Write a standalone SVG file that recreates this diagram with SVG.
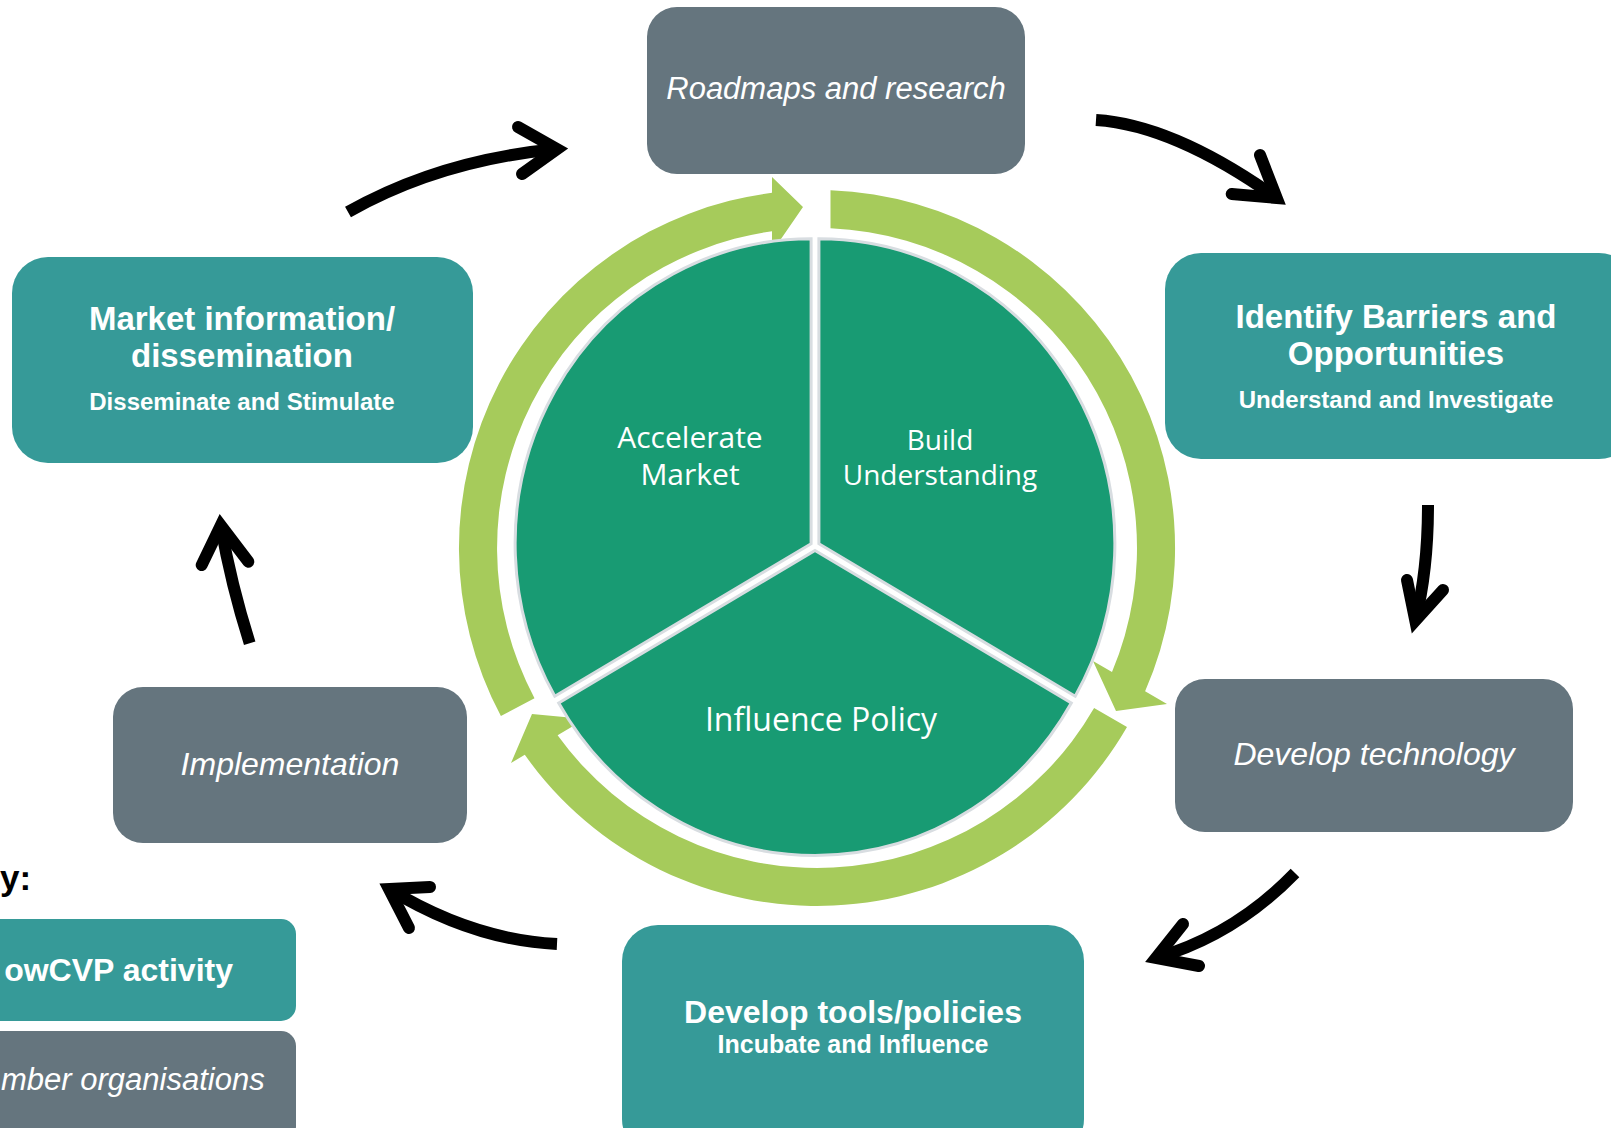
<svg xmlns="http://www.w3.org/2000/svg" width="1611" height="1128" viewBox="0 0 1611 1128">
<style>
.teal{fill:#369A98}
.gray{fill:#65757E}
.tb{font-family:"Liberation Sans",Arial,sans-serif;font-weight:bold;fill:#FFFFFF;text-anchor:middle}
.ti{font-family:"Liberation Sans",Arial,sans-serif;font-style:italic;fill:#FFFFFF;text-anchor:middle}
.tp{font-family:"Open Sans","Noto Sans",sans-serif;fill:#FFFFFF;text-anchor:middle}
.ring{fill:#A6CB5B}
.sector{fill:#189B73;stroke:#D8DDE1;stroke-width:3}
.shaft{fill:none;stroke:#000000;stroke-width:12;stroke-linecap:butt}
.head{fill:none;stroke:#000000;stroke-width:12;stroke-linecap:round;stroke-linejoin:miter;stroke-miterlimit:10}
</style>
<rect x="0" y="0" width="1611" height="1128" fill="#FFFFFF"/>

<g id="cycle-ring">
<path class="ring" d="M500.9,716.1 A358,358 0 0 1 772,192.8 L772,177 L803,207 L772,252 L772,231.2 A320,320 0 0 0 534.5,698.2 Z"/>
<path class="ring" d="M830.5,190.2 A358,358 0 0 1 1145.1,691.3 L1167,704 L1116,711 L1093,661 L1112,672 A320,320 0 0 0 830.5,228.3 Z"/>
<path class="ring" d="M1127,727 A358,358 0 0 1 524.8,754.8 L511,763 L532,714 L585,719 L557.6,735.3 A320,320 0 0 0 1094.1,708 Z"/>
</g>

<g id="node-accelerate-market">
<path class="sector" transform="translate(-3.9,-2.25)" d="M815,546 L558.7,698.5 A296,305 0 0 1 815,241 Z"/>
<text class="tp" font-size="30" x="690" y="448">Accelerate</text>
<text class="tp" font-size="30" x="690" y="485">Market</text>
</g>
<g id="node-build-understanding">
<path class="sector" transform="translate(3.9,-2.25)" d="M815,546 L815,241 A296,305 0 0 1 1071.3,698.5 Z"/>
<text class="tp" font-size="28" x="940" y="450">Build</text>
<text class="tp" font-size="28" x="940" y="485">Understanding</text>
</g>
<g id="node-influence-policy">
<path class="sector" transform="translate(0,4.5)" d="M815,546 L1071.3,698.5 A296,305 0 0 1 558.7,698.5 Z"/>
<text class="tp" font-size="32" x="821" y="731">Influence Policy</text>
</g>

<g id="node-roadmaps">
<rect class="gray" x="647" y="7" width="378" height="167" rx="30"/>
<text class="ti" font-size="31" x="836" y="99">Roadmaps and research</text>
</g>
<g id="node-identify">
<rect class="teal" x="1165" y="253" width="470" height="206" rx="36"/>
<text class="tb" font-size="33" x="1396" y="328">Identify Barriers and</text>
<text class="tb" font-size="33" x="1396" y="365">Opportunities</text>
<text class="tb" font-size="24" x="1396" y="408">Understand and Investigate</text>
</g>
<g id="node-develop-technology">
<rect class="gray" x="1175" y="679" width="398" height="153" rx="30"/>
<text class="ti" font-size="32" x="1374" y="765">Develop technology</text>
</g>
<g id="node-develop-tools">
<rect class="teal" x="622" y="925" width="462" height="230" rx="36"/>
<text class="tb" font-size="32" x="853" y="1023">Develop tools/policies</text>
<text class="tb" font-size="25" x="853" y="1053">Incubate and Influence</text>
</g>
<g id="node-implementation">
<rect class="gray" x="113" y="687" width="354" height="156" rx="30"/>
<text class="ti" font-size="32" x="290" y="775">Implementation</text>
</g>
<g id="node-market">
<rect class="teal" x="12" y="257" width="461" height="206" rx="36"/>
<text class="tb" font-size="33" x="242" y="330">Market information/</text>
<text class="tb" font-size="33" x="242" y="367">dissemination</text>
<text class="tb" font-size="24" x="242" y="410">Disseminate and Stimulate</text>
</g>

<g id="connectors">
<path class="shaft" d="M348,212 Q440,160 557,149"/>
<polyline class="head" points="518,127 557,149 522,174"/>
<path class="shaft" d="M1096,120 Q1174,125 1276.7,198"/>
<polyline class="head" points="1260,155 1276.7,198 1231.7,194"/>
<path class="shaft" d="M1428,505 Q1428,570 1415.3,620.6"/>
<polyline class="head" points="1407,580 1415.3,620.6 1443,590"/>
<path class="shaft" d="M1295,873 Q1235,935 1156,958"/>
<polyline class="head" points="1183,924 1156,958 1199,966"/>
<path class="shaft" d="M557,944 Q473,940 389,889"/>
<polyline class="head" points="430,887 389,889 409,928"/>
<path class="shaft" d="M249.7,643.3 Q231,584 220.8,525.5"/>
<polyline class="head" points="201.7,565 220.8,525.5 248.3,561.7"/>
</g>

<g id="legend">
<text x="0" y="890" font-family="'Liberation Sans',Arial,sans-serif" font-weight="bold" font-size="35" fill="#000000">y:</text>
<g id="legend-lowcvp">
<rect class="teal" x="-40" y="919" width="336" height="102" rx="15"/>
<text x="233" y="981" font-family="'Liberation Sans',Arial,sans-serif" font-weight="bold" font-size="32" fill="#FFFFFF" text-anchor="end">owCVP activity</text>
</g>
<g id="legend-members">
<rect class="gray" x="-40" y="1031" width="336" height="110" rx="15"/>
<text x="1" y="1090" font-family="'Liberation Sans',Arial,sans-serif" font-style="italic" font-size="31" fill="#FFFFFF">mber organisations</text>
</g>
</g>
</svg>
